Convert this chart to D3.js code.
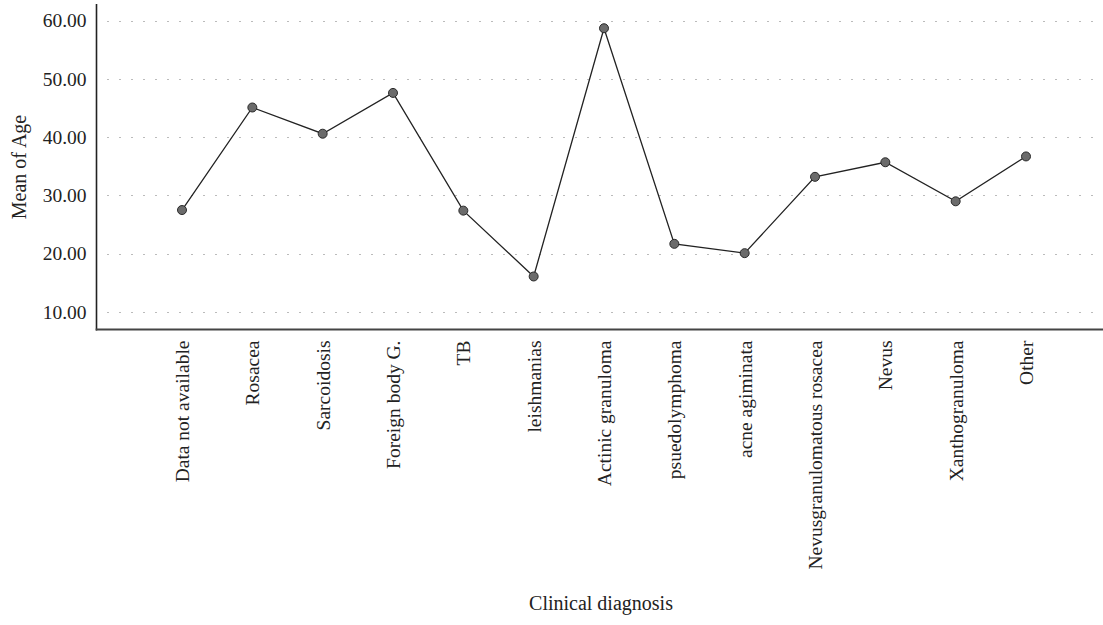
<!DOCTYPE html>
<html><head><meta charset="utf-8">
<script src="https://cdn.jsdelivr.net/npm/d3@7"></script>
<style>body{margin:0;background:#fff}svg{display:block}text{font-family:"Liberation Serif","DejaVu Serif",serif;fill:#222}</style>
</head><body><svg id="c" width="1103" height="625"></svg>
<script>
const categories = ["Data not available","Rosacea","Sarcoidosis","Foreign body G.","TB","leishmanias","Actinic granuloma","psuedolymphoma","acne agiminata","Nevusgranulomatous rosacea","Nevus","Xanthogranuloma","Other"];
const meanAge = [27.5,45.1,40.6,47.6,27.4,16.1,58.7,21.7,20.1,33.2,35.7,29.0,36.7];
const yTicks = [10,20,30,40,50,60];
const yTitle = "Mean of Age";
const xTitle = "Clinical diagnosis";

const svg = d3.select("#c");
const axisLeft = 96.5, axisBottom = 329.5, axisTop = 4, axisRight = 1103;
const FS = 19.5;
const x = d3.scalePoint().domain(categories).range([182, 1026]);
const y = d3.scaleLinear().domain([7, 62.86]).range([axisBottom, axisTop]);

// gridlines
svg.append("g").selectAll("line").data(yTicks).join("line")
  .attr("x1", 107.5).attr("x2", 1096)
  .attr("y1", d => Math.round(y(d)) + 0.5).attr("y2", d => Math.round(y(d)) + 0.5)
  .attr("stroke", "#777").attr("stroke-width", 1).attr("stroke-dasharray", "1,11");

// y axis
const ya = d3.axisLeft(y).tickValues(yTicks).tickSize(0).tickPadding(10).tickFormat(d3.format(".2f"));
const gy = svg.append("g").attr("transform", `translate(${axisLeft},0)`).call(ya);
gy.select(".domain").remove();
gy.selectAll("text").attr("font-size", FS).attr("fill", "#222");
svg.append("line").attr("x1", axisLeft).attr("x2", axisLeft).attr("y1", axisTop).attr("y2", axisBottom + 1)
  .attr("stroke", "#222").attr("stroke-width", 1.6);

// x axis
const xa = d3.axisBottom(x).tickSize(0).tickPadding(0);
const gx = svg.append("g").attr("transform", `translate(0,${axisBottom})`).call(xa);
gx.select(".domain").remove();
gx.selectAll("text")
  .attr("font-size", FS).attr("fill", "#222")
  .attr("text-anchor", "end").attr("transform", "rotate(-90)")
  .attr("x", -11).attr("y", 0).attr("dy", "0.33em");
svg.append("line").attr("x1", axisLeft - 0.8).attr("x2", axisRight).attr("y1", axisBottom).attr("y2", axisBottom)
  .attr("stroke", "#444").attr("stroke-width", 1.8);

// line
svg.append("path").datum(meanAge.map((v, i) => [categories[i], v]))
  .attr("fill", "none").attr("stroke", "#222").attr("stroke-width", 1.3)
  .attr("d", d3.line().x(d => x(d[0])).y(d => y(d[1])));

svg.append("g").selectAll("circle").data(meanAge).join("circle")
  .attr("cx", (d, i) => x(categories[i])).attr("cy", d => y(d)).attr("r", 4.5)
  .attr("fill", "#6b6b6b").attr("stroke", "#2a2a2a").attr("stroke-width", 1);

// titles
svg.append("text").attr("transform", `translate(26,167) rotate(-90)`)
  .attr("text-anchor", "middle").attr("font-size", FS + 0.5).text(yTitle);
svg.append("text").attr("x", 601).attr("y", 610).attr("text-anchor", "middle").attr("font-size", FS + 0.5).text(xTitle);
</script></body></html>
